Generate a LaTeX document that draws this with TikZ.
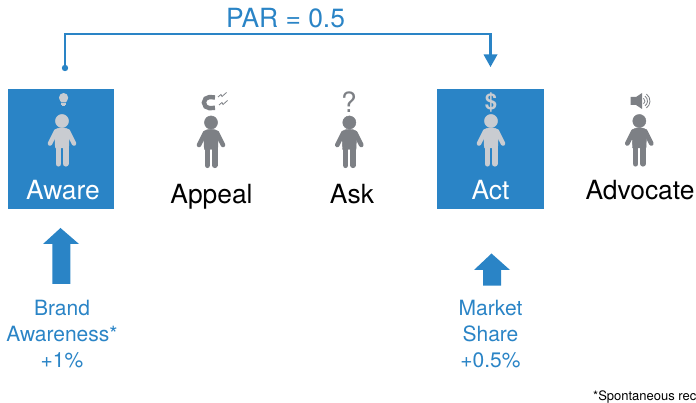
\documentclass[tikz,border=0pt]{standalone}
\usepackage{fontspec}
\setmainfont{TeX Gyre Heros}
\definecolor{brandblue}{HTML}{2A84C6}
\definecolor{darkfig}{HTML}{7D8085}
\definecolor{lightfig}{HTML}{C9CCD1}
\newcommand{\fsz}[1]{\fontsize{#1}{#1}\selectfont}
\tikzset{
  x=1pt,y=-1pt,
  stagebox/.style={fill=brandblue,draw=none,minimum width=106.5pt,minimum height=119.5pt,inner sep=0pt},
  stagelabel/.style={anchor=base,inner sep=0pt,font=\fsz{26.4}},
  whitelabel/.style={stagelabel,text=white},
  bluetext/.style={text=brandblue,font=\fontsize{21}{26}\selectfont,align=center,inner sep=0pt},
  link/.style={draw=brandblue,line width=2.6pt},
  person/.pic={
    \fill[pic actions] (0,0) circle (6.6);
    \fill[pic actions] (-7.5,9) .. controls (-4,6) and (4,6) .. (7.5,9) -- (6.7,27) -- (-6.7,27) -- cycle;
    \draw[pic actions,line width=4.6pt,line cap=round] (-6,10.5) -- (-12,22.5);
    \draw[pic actions,line width=4.6pt,line cap=round] (6,10.5) -- (12,22.5);
    \draw[pic actions,line width=5.6pt,line cap=round] (-3.7,24) -- (-3.7,42.8);
    \draw[pic actions,line width=5.6pt,line cap=round] (3.7,24) -- (3.7,42.8);
  }
}
\begin{document}
\begin{tikzpicture}
\useasboundingbox (0,0) rectangle (696,403);
\clip (0,0) rectangle (696,403);
% boxes
\node[stagebox] (awarebox) at (61,149) {};
\node[stagebox] (actbox) at (490.3,149) {};
% labels
\node[whitelabel] (aware) at (63,200) {Aware};
\node[stagelabel] (appeal) at (211.5,203.5) {Appeal};
\node[stagelabel] (ask) at (352,203.5) {Ask};
\node[whitelabel] (act) at (490.5,200) {Act};
\node[stagelabel] (advocate) at (640,200) {Advocate};
% persons
\pic[fill=lightfig,draw=lightfig] at (62,121) {person};
\pic[fill=darkfig,draw=darkfig] at (211,122.5) {person};
\pic[fill=darkfig,draw=darkfig] at (349.3,122.5) {person};
\pic[fill=lightfig,draw=lightfig] at (491,121) {person};
\pic[fill=darkfig,draw=darkfig] at (639.3,121) {person};
% bulb
\fill[lightfig] (61.2,102.3) .. controls (60.5,100.5) and (59,100) .. (59,97.6)
  arc[start angle=180,end angle=360,radius=4.6] .. controls (68.2,100) and (66.7,100.5) .. (66,102.3) -- cycle;
\fill[lightfig] (61,103.2) rectangle (66,104.6);
\fill[lightfig] (61.6,105.2) rectangle (65.4,106.4);
% magnet
\draw[darkfig,line width=4.4pt] (215,97.5) -- (209.5,97) arc[start angle=-90,end angle=-270,radius=5.6] -- (215,107.8);
\draw[darkfig,line width=.8pt] (218,97) -- (221,94.5) -- (222,96.5) -- (226.5,92.5);
\draw[darkfig,line width=.8pt] (219,105) -- (222,102.5) -- (223,104.5) -- (227.5,100.5);
% question mark, dollar
\node[inner sep=0pt,text=darkfig,font=\fsz{28}] (question) at (349,102) {?};
\node[inner sep=0pt,text=lightfig,font=\fsz{22}\bfseries] (dollar) at (491,102) {\$};
% speaker
\fill[darkfig] (630.5,97) -- (636,97) -- (642,93) -- (642,109) -- (636,105) -- (630.5,105) -- cycle;
\foreach \r in {3.5,6,8.5}
  \draw[darkfig,line width=.8pt] (641.5,101) ++(-55:\r) arc[start angle=-55,end angle=55,radius=\r];
% connector
\coordinate (linkstart) at (65,68);
\coordinate (linkend) at (490.5,67);
\fill[brandblue] (linkstart) circle (3.2);
\fill[brandblue] (linkend) -- ++(-7,-12.5) -- ++(14,0) -- cycle;
\draw[link] (linkstart) |- (490.5,34) -- (490.5,56);
\node[anchor=base,inner sep=0pt,text=brandblue,font=\fsz{26.4}] (par) at (285.5,28) {PAR = 0.5};
% lift arrows
\fill[brandblue] (60.5,228) -- (79,244) -- (70.3,244) -- (70.3,284) -- (52.3,284) -- (52.3,244) -- (43,244) -- cycle;
\fill[brandblue] (491.5,253.5) -- (510,270) -- (501,270) -- (501,285.6) -- (483,285.6) -- (483,270) -- (474,270) -- cycle;
% metrics
\node[bluetext] (brand) at (62,334) {Brand\\Awareness*\\+1\%};
\node[bluetext] (market) at (490.5,334) {Market\\Share\\+0.5\%};
\node[anchor=base west,inner sep=0pt,font=\fsz{13}] (foot) at (593,400) {*Spontaneous rec};
\end{tikzpicture}
\end{document}
